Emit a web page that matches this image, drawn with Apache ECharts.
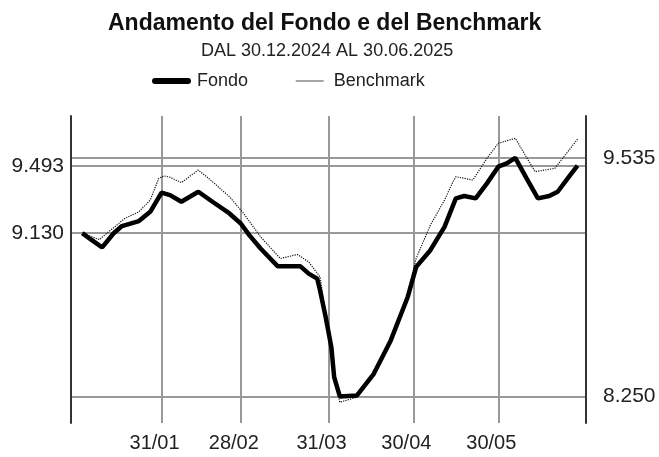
<!DOCTYPE html>
<html>
<head>
<meta charset="utf-8">
<title>Andamento del Fondo e del Benchmark</title>
<script src="https://cdn.jsdelivr.net/npm/echarts@6/dist/echarts.min.js"></script>
<style>
    html, body { margin: 0; padding: 0; background: #fff; }
    #main { width: 659px; height: 457px; }
</style>
</head>
<body>
<div id="main"></div>
<script>
// Fondo - valori
var fondoDates = ['2025-01-03', '2025-01-06', '2025-01-10', '2025-01-14', '2025-01-17', '2025-01-23', '2025-01-27', '2025-01-31',
    '2025-02-03', '2025-02-07', '2025-02-10', '2025-02-13', '2025-02-18', '2025-02-24', '2025-02-28',
    '2025-03-03', '2025-03-07', '2025-03-13', '2025-03-21', '2025-03-24', '2025-03-27', '2025-03-28', '2025-03-30',
    '2025-04-01', '2025-04-02', '2025-04-04', '2025-04-10', '2025-04-16', '2025-04-22', '2025-04-28',
    '2025-05-01', '2025-05-06', '2025-05-11', '2025-05-15', '2025-05-18', '2025-05-22', '2025-05-26', '2025-05-30',
    '2025-06-02', '2025-06-05', '2025-06-09', '2025-06-13', '2025-06-17', '2025-06-20', '2025-06-24', '2025-06-27'];
var fondoValues = [9.130, 9.096, 9.053, 9.128, 9.168, 9.195, 9.245, 9.348,
    9.335, 9.299, 9.326, 9.353, 9.299, 9.236, 9.182,
    9.119, 9.047, 8.952, 8.952, 8.912, 8.885, 8.822, 8.678,
    8.516, 8.354, 8.250, 8.255, 8.372, 8.552, 8.786,
    8.948, 9.038, 9.164, 9.317, 9.330, 9.317, 9.398, 9.488,
    9.506, 9.535, 9.425, 9.317, 9.330, 9.353, 9.434, 9.493];

// Benchmark
var benchDates = ['2025-01-03', '2025-01-09', '2025-01-13', '2025-01-18', '2025-01-23', '2025-01-27', '2025-01-30',
    '2025-02-01', '2025-02-03', '2025-02-07', '2025-02-13', '2025-02-18', '2025-02-24',
    '2025-03-01', '2025-03-07', '2025-03-14', '2025-03-20', '2025-03-24', '2025-03-28', '2025-03-30',
    '2025-04-01', '2025-04-02', '2025-04-04', '2025-04-10', '2025-04-16', '2025-04-22', '2025-04-28',
    '2025-05-01', '2025-05-06', '2025-05-11', '2025-05-14', '2025-05-15', '2025-05-21', '2025-05-26', '2025-05-30',
    '2025-06-05', '2025-06-12', '2025-06-19', '2025-06-27'];
var benchValues = [9.130, 9.095, 9.146, 9.209, 9.245, 9.308, 9.425,
    9.438, 9.431, 9.402, 9.470, 9.407, 9.326,
    9.236, 9.110, 8.993, 9.015, 8.975, 8.894, 8.690,
    8.516, 8.354, 8.219, 8.246, 8.372, 8.560, 8.806,
    8.995, 9.173, 9.308, 9.407, 9.434, 9.416, 9.533, 9.614,
    9.641, 9.461, 9.479, 9.636];

// assi
var xStart = '2024-12-30';
var xEnd = '2025-06-30';
var monthTicks = ['2025-01-31', '2025-02-28', '2025-03-31', '2025-04-30', '2025-05-30'];
var leftLabels = [9.130, 9.493];
var rightLabels = [8.250, 9.535];
var gridValues = [8.250, 9.130, 9.493, 9.535];
var yMin = 8.107;
var yMax = 9.761;

function toTime(s) {
    var p = s.split('-');
    return new Date(+p[0], +p[1] - 1, +p[2]).getTime();
}
function pad(n) {
    return n < 10 ? '0' + n : '' + n;
}
function pairs(dates, values) {
    var out = [];
    for (var i = 0; i < dates.length; i++) {
        out.push([toTime(dates[i]), values[i]]);
    }
    return out;
}

var FONT = '"Liberation Sans", Arial, sans-serif';
var monthTickTimes = monthTicks.map(toTime);

var option = {
    animation: false,
    backgroundColor: '#fff',
    textStyle: { fontFamily: FONT },
    title: [
        {
            text: 'Andamento del Fondo e del Benchmark',
            left: 103,
            top: 7,
            textStyle: { fontFamily: FONT, fontSize: 23, fontWeight: 'bold', color: '#111' }
        },
        {
            text: 'DAL 30.12.2024 AL 30.06.2025',
            left: 196,
            top: 37,
            textStyle: { fontFamily: FONT, fontSize: 18, fontWeight: 'normal', color: '#222' }
        }
    ],
    legend: [
        {
            data: [{ name: 'Fondo', lineStyle: { width: 6, cap: 'round' } }],
            left: 147,
            top: 67,
            itemWidth: 33,
            itemHeight: 8,
            itemStyle: { opacity: 0 },
            textStyle: { fontFamily: FONT, fontSize: 18, color: '#222', padding: [0, 0, 0, 4] }
        },
        {
            data: [{ name: 'Benchmark', lineStyle: { type: 'solid', color: '#888', width: 1.5 } }],
            left: 290,
            top: 67,
            itemWidth: 28,
            itemHeight: 8,
            itemStyle: { opacity: 0 },
            textStyle: { fontFamily: FONT, fontSize: 18, color: '#222', padding: [0, 0, 0, 5] }
        }
    ],
    grid: {
        left: 71,
        right: 73,
        top: 116,
        bottom: 34,
        containLabel: false
    },
    // asse x come valore (timestamp), etichette a fine mese
    xAxis: {
        type: 'value',
        min: toTime(xStart),
        max: toTime(xEnd),
        axisLine: { show: false },
        axisTick: { show: false, customValues: monthTickTimes },
        axisLabel: {
            customValues: monthTickTimes,
            margin: 10,
            fontSize: 20,
            color: '#222',
            padding: [0, 14, 0, 0],
            formatter: function(v) {
                var d = new Date(v);
                return pad(d.getDate()) + '/' + pad(d.getMonth() + 1);
            }
        },
        splitLine: { show: true, lineStyle: { color: '#999', width: 2 } }
    },
    yAxis: [
        {
            type: 'value',
            position: 'left',
            min: yMin,
            max: yMax,
            axisLine: { show: true, lineStyle: { color: '#333', width: 2 } },
            axisTick: { show: false, customValues: gridValues },
            axisLabel: {
                customValues: leftLabels,
                margin: 7,
                fontSize: 21,
                color: '#222',
                formatter: function(v) { return v.toFixed(3); }
            },
            splitLine: { show: true, lineStyle: { color: '#999', width: 2 } }
        },
        {
            type: 'value',
            position: 'right',
            min: yMin,
            max: yMax,
            axisLine: { show: true, lineStyle: { color: '#333', width: 2 } },
            axisTick: { show: false, customValues: rightLabels },
            axisLabel: {
                customValues: rightLabels,
                margin: 17,
                fontSize: 21,
                color: '#222',
                formatter: function(v) { return v.toFixed(3); }
            },
            splitLine: { show: false }
        }
    ],
    series: [
        {
            name: 'Benchmark',
            type: 'line',
            yAxisIndex: 1,
            data: pairs(benchDates, benchValues),
            color: '#111',
            symbol: 'none',
            z: 2,
            lineStyle: { color: '#111', width: 1.2, type: 'dotted' }
        },
        {
            name: 'Fondo',
            type: 'line',
            yAxisIndex: 0,
            data: pairs(fondoDates, fondoValues),
            color: '#000',
            symbol: 'none',
            z: 3,
            lineStyle: { color: '#000', width: 4.5 }
        }
    ]
};

var chart = echarts.init(document.getElementById('main'));
chart.setOption(option);
</script>
</body>
</html>
